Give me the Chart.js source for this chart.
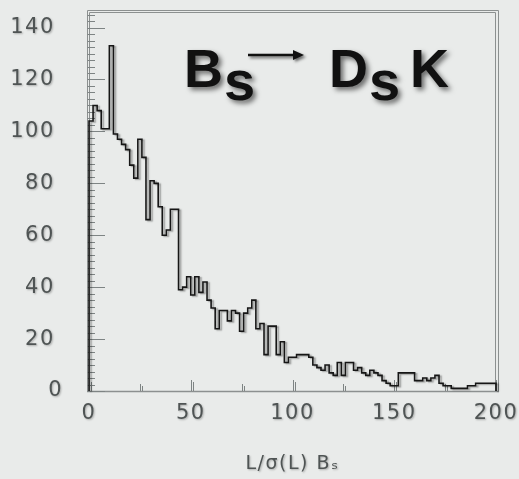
<!DOCTYPE html>
<html>
<head>
<meta charset="utf-8">
<script src="https://cdn.jsdelivr.net/npm/chart.js@4.4.1/dist/chart.umd.min.js"></script>
<style>
  html, body { margin: 0; padding: 0; background: #e9ebea; }
  #wrap { width: 519px; height: 479px; position: relative; }
</style>
</head>
<body>
<div id="wrap"><canvas id="c" width="519" height="479"></canvas></div>
<script>
// Decay-length significance of Bs -> Ds K candidates, 2-unit bins from 0 to 200
const binWidth = 2;
const counts = [
  70, 104, 110, 108, 101, 101, 133, 99, 97, 95,
  93, 87, 82, 97, 90, 66, 81, 80, 71, 60,
  62, 70, 70, 39, 40, 44, 37, 44, 38, 42,
  35, 32, 24, 31, 31, 27, 31, 30, 23, 30,
  32, 35, 24, 26, 14, 25, 25, 14, 19, 11,
  13, 13, 14, 14, 14, 13, 10, 9, 8, 10,
  7, 6, 11, 6, 11, 11, 8, 9, 7, 6,
  8, 7, 6, 4, 3, 2, 2, 7, 7, 7,
  7, 4, 4, 5, 4, 5, 6, 3, 2, 2,
  1, 1, 1, 1, 2, 2, 3, 3, 3, 3
];
const xLabels = [0, 50, 100, 150, 200];
const yLabels = [0, 20, 40, 60, 80, 100, 120, 140];
const xMinorStep = 25;
const yMinorStep = 2.5;

// Outline histogram: one point per lower bin edge, closed down to zero at both ends
const outline = [{ x: 0, y: 0 }];
counts.forEach((c, i) => outline.push({ x: i * binWidth, y: c }));
outline.push({ x: counts.length * binWidth, y: counts[counts.length - 1] });
outline.push({ x: counts.length * binWidth, y: 0 });

const labelColor = '#4f5454';
const frameColor = '#8c9090';

const framePlugin = {
  id: 'frameAndTicks',
  beforeDraw(chart) {
    const ctx = chart.ctx;
    ctx.save();
    ctx.letterSpacing = '1.5px';
    ctx.shadowColor = 'rgba(0,0,0,0.28)';
    ctx.shadowBlur = 2;
    ctx.shadowOffsetX = 1;
    ctx.shadowOffsetY = 1;
  },
  beforeDatasetsDraw(chart) {
    const ctx = chart.ctx;
    ctx.restore();
    const a = chart.chartArea;
    const xs = chart.scales.x, ys = chart.scales.y;
    ctx.save();
    ctx.strokeStyle = frameColor;
    ctx.lineWidth = 1;
    // double-lined frame
    ctx.beginPath();
    ctx.moveTo(a.left - 1.5, a.bottom + 0.5);
    ctx.lineTo(a.left - 1.5, a.top - 1.5);
    ctx.lineTo(a.right + 2.5, a.top - 1.5);
    ctx.lineTo(a.right + 2.5, a.bottom + 0.5);
    ctx.moveTo(a.left + 0.5, a.bottom);
    ctx.lineTo(a.left + 0.5, a.top + 0.5);
    ctx.lineTo(a.right - 0.5, a.top + 0.5);
    ctx.lineTo(a.right - 0.5, a.bottom);
    ctx.stroke();
    ctx.lineWidth = 1.5;
    ctx.beginPath();
    ctx.moveTo(a.left - 2, a.bottom + 0.5);
    ctx.lineTo(a.right + 3, a.bottom + 0.5);
    ctx.stroke();
    // y ticks, pointing into the plot
    ctx.lineWidth = 1;
    ctx.strokeStyle = '#7e8484';
    ctx.beginPath();
    for (let v = 0; v <= ys.max; v += yMinorStep) {
      const y = Math.round(ys.getPixelForValue(v)) + 0.5;
      const len = yLabels.includes(v) ? 16 : 6;
      ctx.moveTo(a.left - 1.5, y);
      ctx.lineTo(a.left + len, y);
    }
    ctx.stroke();
    // x ticks, pointing up
    ctx.beginPath();
    for (let v = 0; v <= xs.max; v += xMinorStep) {
      const x = Math.round(xs.getPixelForValue(v)) + 0.5;
      const len = xLabels.includes(v) ? 11 : 7;
      ctx.moveTo(x, a.bottom);
      ctx.lineTo(x, a.bottom - len);
      ctx.moveTo(x + 2, a.bottom);
      ctx.lineTo(x + 2, a.bottom - len + 2);
    }
    ctx.stroke();
    ctx.restore();
  },
  beforeDatasetDraw(chart) {
    const ctx = chart.ctx;
    ctx.save();
    ctx.shadowColor = 'rgba(0,0,0,0.35)';
    ctx.shadowBlur = 1.5;
    ctx.shadowOffsetX = 2;
    ctx.shadowOffsetY = 1;
  },
  afterDatasetDraw(chart) {
    chart.ctx.restore();
  },
  afterDraw(chart) {
    // decay channel label
    const ctx = chart.ctx;
    ctx.save();
    ctx.fillStyle = '#111';
    ctx.shadowColor = 'rgba(0,0,0,0.55)';
    ctx.shadowBlur = 5;
    ctx.shadowOffsetX = 3;
    ctx.shadowOffsetY = 3;
    ctx.textBaseline = 'alphabetic';
    ctx.textAlign = 'left';
    const big = 'bold 54px "Liberation Sans", Arial, sans-serif';
    const sub = 'bold 56px "Liberation Sans", Arial, sans-serif';
    ctx.font = big; ctx.fillText('B', 184, 87);
    ctx.font = sub; ctx.fillText('s', 224, 100);
    ctx.font = big; ctx.fillText('D', 329, 87);
    ctx.font = sub; ctx.fillText('s', 369, 100);
    ctx.font = big; ctx.fillText('K', 410, 87);
    // arrow
    ctx.shadowBlur = 3;
    ctx.shadowOffsetX = 2;
    ctx.shadowOffsetY = 2;
    ctx.strokeStyle = '#111';
    ctx.lineWidth = 2.5;
    ctx.beginPath();
    ctx.moveTo(248, 55);
    ctx.lineTo(295, 55);
    ctx.stroke();
    ctx.beginPath();
    ctx.moveTo(293, 50);
    ctx.lineTo(304, 55);
    ctx.lineTo(293, 60);
    ctx.closePath();
    ctx.fill();
    ctx.restore();
  }
};

const tickFont = { family: '"DejaVu Sans", sans-serif', size: 21 };

new Chart(document.getElementById('c'), {
  type: 'line',
  data: {
    datasets: [{
      data: outline,
      stepped: 'after',
      borderColor: '#161616',
      borderWidth: 1.6,
      pointRadius: 0,
      fill: false,
      clip: false
    }]
  },
  options: {
    responsive: false,
    animation: false,
    devicePixelRatio: 1,
    layout: { padding: { left: 0, top: 12, right: 23, bottom: 0 } },
    plugins: { legend: { display: false }, tooltip: { enabled: false } },
    scales: {
      x: {
        type: 'linear',
        min: 0,
        max: 200,
        afterBuildTicks: s => { s.ticks = xLabels.map(v => ({ value: v })); },
        afterFit: s => { s.height = 88; s.paddingLeft = 0; s.paddingRight = 0; },
        grid: { display: false, drawTicks: false },
        border: { display: false },
        ticks: {
          autoSkip: false,
          maxRotation: 0,
          padding: 10,
          color: labelColor,
          font: tickFont
        },
        title: {
          display: true,
          text: 'L/σ(L) Bₛ',
          color: labelColor,
          font: { family: '"DejaVu Sans", sans-serif', size: 19 },
          padding: { top: 0, bottom: 4 }
        }
      },
      y: {
        min: 0,
        max: 146,
        afterBuildTicks: s => { s.ticks = yLabels.map(v => ({ value: v })); },
        afterFit: s => { s.width = 89; s.paddingTop = 0; s.paddingBottom = 0; },
        grid: { display: false, drawTicks: false },
        border: { display: false },
        ticks: {
          autoSkip: false,
          padding: 26,
          color: labelColor,
          font: tickFont,
          callback: v => (v === 0 ? '0' : v + ' ')
        }
      }
    }
  },
  plugins: [framePlugin]
});
</script>
</body>
</html>
